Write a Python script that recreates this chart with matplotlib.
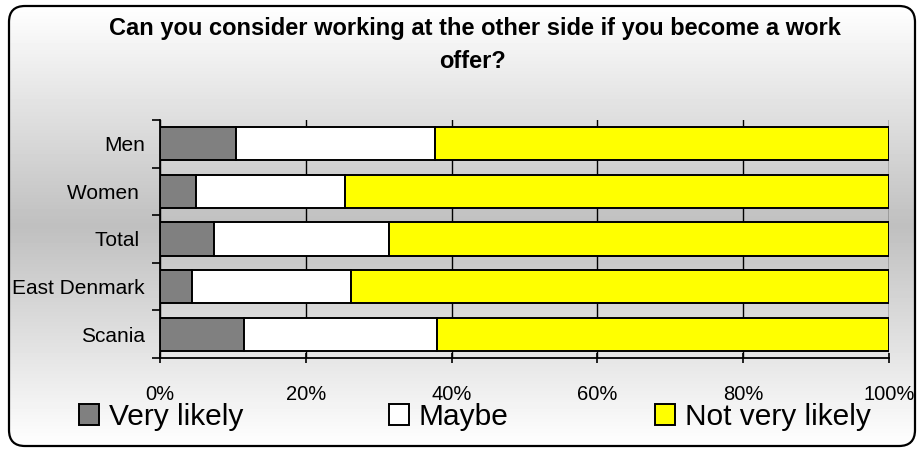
import numpy as np
import matplotlib
matplotlib.use("Agg")
import matplotlib.pyplot as plt
from matplotlib.patches import FancyBboxPatch, Patch

# Data (percent)
groups = ["Men", "Women ", "Total ", "East Denmark", "Scania"]
very_likely = [10.4, 4.9, 7.4, 4.4, 11.5]
maybe = [27.3, 20.5, 24.0, 21.8, 26.5]
not_very_likely = [62.3, 74.6, 68.6, 73.8, 62.0]
series_names = ["Very likely", "Maybe", "Not very likely"]
series_colors = ["#808080", "#ffffff", "#ffff00"]
x_ticks = [0, 20, 40, 60, 80, 100]

plt.rcParams["font.family"] = ["Liberation Sans", "DejaVu Sans"]

W, H = 923, 450
fig = plt.figure(figsize=(W / 100, H / 100), dpi=100)
fig.patch.set_facecolor("white")

# rounded gradient background
bg = fig.add_axes([0, 0, 1, 1], zorder=-10)
bg.set_xlim(0, W)
bg.set_ylim(H, 0)
bg.axis("off")
yy = np.linspace(0, H, 450)
top, mid, bot = 5, 226, 447
vals = np.where(yy < mid, 1 - 0.25 * np.clip((yy - top) / (mid - top), 0, 1),
                0.75 + 0.25 * np.clip((yy - mid) / (bot - mid), 0, 1))
grad = np.repeat(vals[:, None], 2, axis=1)
frame = FancyBboxPatch((9, 6), 906, 440, boxstyle="round,pad=0,rounding_size=16",
                       facecolor="none", edgecolor="black", linewidth=1.6,
                       transform=bg.transData, zorder=2)
im = bg.imshow(grad, cmap="gray", vmin=0, vmax=1, extent=[0, W, H, 0], aspect="auto")
im.set_clip_path(frame)
bg.add_patch(frame)

# main axes
ax = fig.add_axes([160 / W, 1 - 358 / H, 729 / W, 238 / H])
ax.patch.set_alpha(0)
y = np.arange(len(groups))
left = np.zeros(len(groups))
for vals_s, name, col in zip([very_likely, maybe, not_very_likely], series_names, series_colors):
    ax.barh(y, vals_s, left=left, height=0.7, color=col, edgecolor="black",
            linewidth=1.4, label=name, zorder=3)
    left += np.array(vals_s)

ax.set_xlim(0, 100)
ax.set_ylim(len(groups) - 0.5, -0.5)
ax.set_yticks(np.arange(len(groups) + 1) - 0.5, minor=False)
ax.set_yticklabels([])
ax.set_yticks(y, minor=True)
ax.set_yticklabels(groups, minor=True, fontsize=15)
ax.tick_params(axis="y", which="minor", length=0, pad=11)
ax.tick_params(axis="y", which="major", length=6, width=1.2, direction="out")
ax.set_xticks(x_ticks)
ax.set_xticklabels([f"{t}%" for t in x_ticks], fontsize=14.5)
ax.tick_params(axis="x", length=7, width=1.2, direction="inout", pad=16)
ax.grid(axis="x", color="black", linewidth=1.0, zorder=0)
ax.set_axisbelow(True)
for s in ["top", "right"]:
    ax.spines[s].set_visible(False)
for s in ["left", "bottom"]:
    ax.spines[s].set_linewidth(1.3)

# title
fig.text(475 / W, 1 - 29 / H, "Can you consider working at the other side if you become a work",
         ha="center", va="center", fontsize=17, fontweight="bold")
fig.text(472 / W, 1 - 61 / H, "offer?", ha="center", va="center", fontsize=17, fontweight="bold")

# legend
handles = [Patch(facecolor=c, edgecolor="black", linewidth=1.4) for c in series_colors]
fig.legend(handles, series_names, loc="center left", bbox_to_anchor=(79 / W, 1 - 417 / H),
           ncol=3, frameon=False, fontsize=21.5, handlelength=0.66, handleheight=0.66,
           handletextpad=0.33, columnspacing=4.9, borderpad=0, borderaxespad=0)

fig.savefig("out.png", dpi=100)
